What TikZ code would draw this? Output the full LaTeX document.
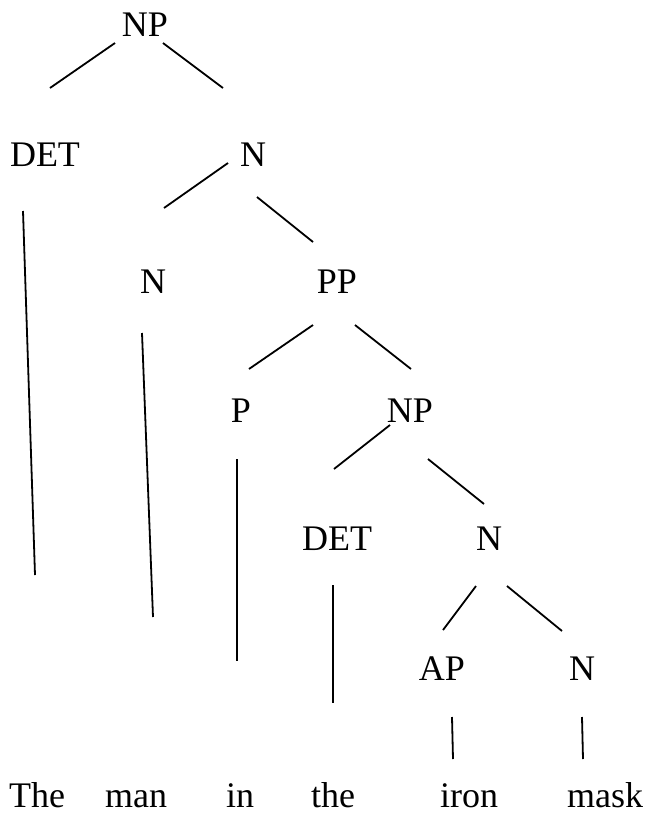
\documentclass[tikz,border=0pt]{standalone}
\usepackage{fontspec}
\setmainfont{Liberation Serif}
\usepackage{tikz}
\usetikzlibrary{positioning}

\tikzset{
	cat/.style = {inner sep = 0pt, anchor = base, font = \fontsize{18}{22}\selectfont},
	branch/.style = {line width = 0.9pt}
}

\begin{document}
\begin{tikzpicture}[
			x = 0.5pt,
			y = -0.5pt
			]

			\useasboundingbox (0,0) rectangle (647,814);

			% categories
			\node[cat] (np0) at (145,36) {NP};
			\node[cat] (det0) at (45,166) {DET};
			\node[cat] (n0) at (253,166) {N};
			\node[cat] (n1) at (153,293) {N};
			\node[cat] (pp) at (337,293) {PP};
			\node[cat] (p) at (241,422) {P};
			\node[cat] (np1) at (410,422) {NP};
			\node[cat] (det1) at (337,550) {DET};
			\node[cat] (n2) at (489,550) {N};
			\node[cat] (ap) at (442,680) {AP};
			\node[cat] (n3) at (582,680) {N};

			% words
			\foreach \w/\x/\t in {w1/37/The,w2/136/man,w3/240/in,w4/333/the,w5/469/iron,w6/605/mask}{
				\node[cat] (\w) at (\x,807) {\t};
			}

			% branches
			\foreach \a/\ax/\ay/\b/\bx/\by in {
				np0/-30/7/det0/5/-78, np0/18/7/n0/-30/-78,
				n0/-25/-3/n1/11/-85, n0/4/31/pp/-24/-51,
				det0/-22/45/w1/-2/-232, n1/-11/40/w2/17/-190,
				pp/-24/32/p/8/-53, pp/18/32/np1/1/-53,
				p/-4/37/w3/-3/-146,
				np1/-20/3/det1/-3/-81, np1/18/37/n2/-5/-46,
				det1/-4/35/w4/0/-104,
				n2/-13/36/ap/1/-50, n2/18/36/n3/-20/-49,
				ap/10/37/w5/-16/-48, n3/0/37/w6/-22/-48}{
				\draw[branch] ([shift={(\ax,\ay)}]\a.base) -- ([shift={(\bx,\by)}]\b.base);
			}

		\end{tikzpicture}
\end{document}
